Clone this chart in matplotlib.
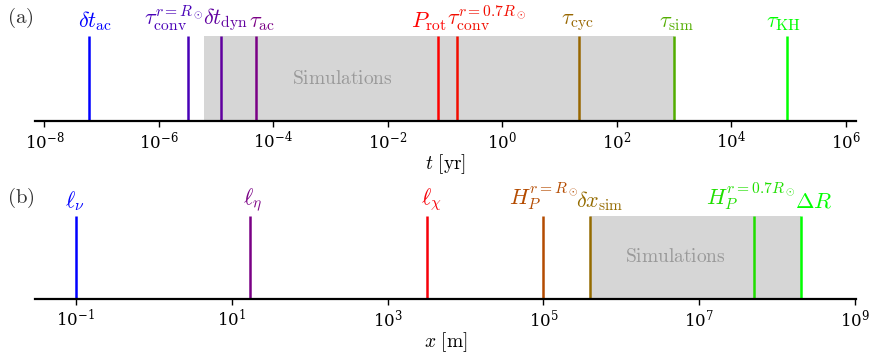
#!/usr/bin/env python3
"""
Characteristic time and length scales of the Sun compared with
the range covered by simulations (two stacked log-axis panels).
"""

import numpy as np
import matplotlib
matplotlib.use("Agg")
import matplotlib.pyplot as plt
from matplotlib.colors import Normalize
from matplotlib.ticker import FixedLocator, NullLocator, LogFormatterMathtext

plt.rcParams["mathtext.fontset"] = "cm"
plt.rcParams["font.family"] = ["DejaVu Serif"]

# ============ Data ============

# (a) time scales [yr]
time_labels = [
    r"$\delta t_{\mathrm{ac}}$",
    r"$\tau_{\mathrm{conv}}^{r=R_\odot}$",
    r"$\delta t_{\mathrm{dyn}}$",
    r"$\tau_{\mathrm{ac}}$",
    r"$P_{\mathrm{rot}}$",
    r"$\tau_{\mathrm{conv}}^{r=0.7R_\odot}$",
    r"$\tau_{\mathrm{cyc}}$",
    r"$\tau_{\mathrm{sim}}$",
    r"$\tau_{\mathrm{KH}}$",
]
time_values = [6e-8, 3.2e-6, 1.2e-5, 5e-5, 0.076, 0.16, 22.0, 1.0e3, 9.5e4]
time_sim_range = [6.1e-6, 1.0e3]
time_ticks = [1e-8, 1e-6, 1e-4, 1e-2, 1e0, 1e2, 1e4, 1e6]

# (b) length scales [m]
length_labels = [
    r"$\ell_{\nu}$",
    r"$\ell_{\eta}$",
    r"$\ell_{\chi}$",
    r"$H_P^{r=R_\odot}$",
    r"$\delta x_{\mathrm{sim}}$",
    r"$H_P^{r=0.7R_\odot}$",
    r"$\Delta R$",
]
length_values = [0.1, 17.0, 3.2e3, 1.0e5, 4.0e5, 5.0e7, 2.0e8]
length_sim_range = [4.0e5, 2.0e8]
length_ticks = [1e-1, 1e1, 1e3, 1e5, 1e7, 1e9]


# ============ Plotting ============

def draw_panel(ax, values, labels, sim_range, ticks, xlim, label_dx,
               sim_text_x, xlabel):
    """Draw vertical markers for each scale plus the simulation band."""
    logv = np.log10(values)
    norm = Normalize(vmin=logv.min(), vmax=logv.max())
    cmap = plt.get_cmap("brg")

    ax.set_xscale("log")
    ax.set_xlim(*xlim)
    ax.set_ylim(0, 1)

    ax.axvspan(sim_range[0], sim_range[1], ymin=0, ymax=1,
               color="#d6d6d6", lw=0, zorder=1)
    ax.text(sim_text_x, 0.5, r"$\mathrm{Simulations}$", color="#999999",
            fontsize=14, ha="center", va="center", zorder=2)

    for v, lab, dx in zip(values, labels, label_dx):
        c = cmap(norm(np.log10(v)))
        ax.vlines(v, 0, 1, color=c, lw=1.8, zorder=3)
        ax.annotate(lab, xy=(v, 1), xytext=(dx, 3),
                    textcoords="offset pixels", ha="center", va="bottom",
                    color=c, fontsize=16, annotation_clip=False)

    for side in ["top", "left", "right"]:
        ax.spines[side].set_visible(False)
    ax.spines["bottom"].set_linewidth(1.6)
    ax.spines["bottom"].set_zorder(4)
    ax.set_yticks([])
    ax.xaxis.set_major_locator(FixedLocator(ticks))
    ax.xaxis.set_minor_locator(NullLocator())
    ax.xaxis.set_major_formatter(LogFormatterMathtext())
    ax.tick_params(axis="x", labelsize=12, length=4, width=1, pad=3)
    ax.set_xlabel(xlabel, fontsize=14, labelpad=0)


def main():
    fig = plt.figure(figsize=(8.69, 3.58), dpi=100)
    ax_a = fig.add_axes([0.040, 0.662, 0.945, 0.237])
    ax_b = fig.add_axes([0.040, 0.165, 0.945, 0.232])

    draw_panel(ax_a, time_values, time_labels, time_sim_range, time_ticks,
               (10 ** -8.168, 10 ** 6.18),
               [6, -14, 5, 6, -10, 30, -1, 2, -4],
               1.6e-3, r"$t\ [\mathrm{yr}]$")
    draw_panel(ax_b, length_values, length_labels, length_sim_range,
               length_ticks, (10 ** -1.527, 10 ** 9.01),
               [-1, 3, 4, 0, 9, -3, 13],
               5e6, r"$x\ [\mathrm{m}]$")

    fig.text(0.008, 1 - 18 / 358, r"$\mathrm{(a)}$", fontsize=15,
             va="center", color="#333333")
    fig.text(0.008, 1 - 198 / 358, r"$\mathrm{(b)}$", fontsize=15,
             va="center", color="#333333")

    fig.savefig("out.png", dpi=100)


if __name__ == "__main__":
    main()
